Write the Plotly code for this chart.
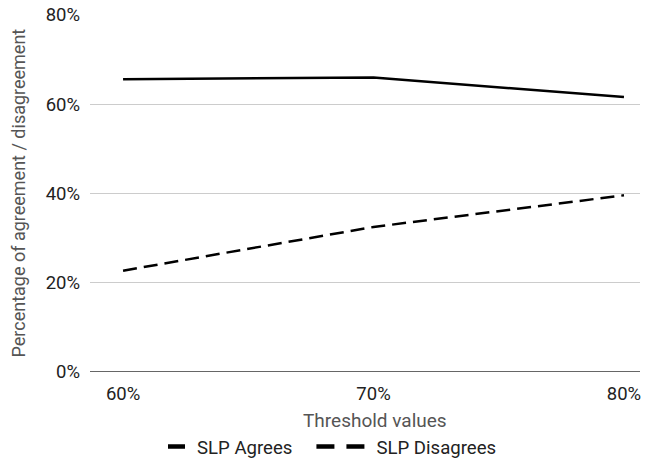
import plotly.graph_objects as go

thresholds = ["60%", "70%", "80%"]
slp_agrees = [65.6, 66.0, 61.6]
slp_disagrees = [22.7, 32.5, 39.6]
y_ticks = [0, 20, 40, 60, 80]
y_tick_labels = ["0%", "20%", "40%", "60%", "80%"]

xpos = list(range(len(thresholds)))

fig = go.Figure()
# data lines
fig.add_trace(go.Scatter(x=xpos, y=slp_agrees, mode="lines", name="SLP Agrees",
                         showlegend=False, line=dict(color="black", width=2.5)))
fig.add_trace(go.Scatter(x=xpos, y=slp_disagrees, mode="lines", name="SLP Disagrees",
                         showlegend=False,
                         line=dict(color="black", width=2.5, dash="14px,7px")))
# legend entries (thick short dashes like the reference)
fig.add_trace(go.Scatter(x=[None], y=[None], mode="lines", name="SLP Agrees",
                         line=dict(color="black", width=4.5, dash="0px,45px,17px,200px")))
fig.add_trace(go.Scatter(x=[None], y=[None], mode="lines", name="SLP Disagrees",
                         line=dict(color="black", width=4.5,
                                   dash="0px,14px,18px,12px,18px,200px")))

fig.update_layout(
    width=649, height=459,
    margin=dict(l=90, r=9, t=15, b=87),
    plot_bgcolor="white", paper_bgcolor="white",
    font=dict(family="Roboto", size=18, color="#222222"),
    showlegend=True,
    legend=dict(orientation="h", x=(118 - 90) / 550, xanchor="left",
                yref="container", y=12 / 459, yanchor="middle",
                font=dict(size=18.6, color="#222222"), itemwidth=69,
                traceorder="normal"),
    xaxis=dict(
        tickmode="array", tickvals=xpos, ticktext=thresholds,
        range=[-0.132, 2.064], showgrid=False, zeroline=False,
        showline=False, ticks="", automargin=False,
        ticklabelstandoff=8,
        tickfont=dict(size=18.5, color="#222222"),
    ),
    yaxis=dict(
        tickmode="array", tickvals=y_ticks, ticktext=y_tick_labels,
        range=[0, 80], showgrid=True, gridcolor="#cccccc", gridwidth=1,
        zeroline=False, showline=False, ticks="", automargin=False,
        ticklabelstandoff=9,
        tickfont=dict(size=18.5, color="#222222"),
    ),
    annotations=[
        dict(text="Threshold values", xref="paper", yref="paper",
             x=(375 - 90) / 550, y=-(420 - 372) / 357, xanchor="center", yanchor="middle",
             showarrow=False, font=dict(size=19, color="#555555")),
        dict(text="Percentage of agreement / disagreement", xref="paper", yref="paper",
             x=-(90 - 18) / 550, y=0.5, xanchor="center", yanchor="middle", textangle=-90,
             showarrow=False, font=dict(size=18, color="#555555")),
    ],
)
fig.add_shape(type="line", xref="paper", yref="y", x0=0, x1=1, y0=0, y1=0,
              line=dict(color="#333333", width=1.5))

fig.write_html("out.html", config={"displayModeBar": False},
               post_script="document.body.style.margin='0';")
